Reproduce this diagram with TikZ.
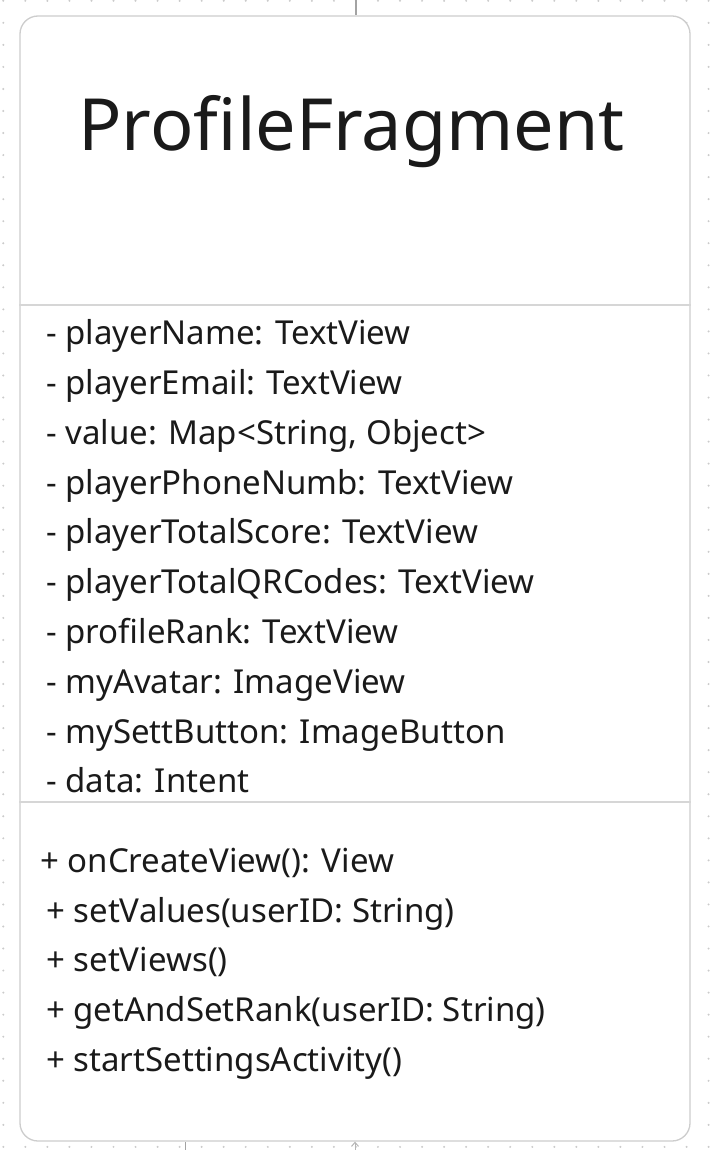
\documentclass[tikz,border=0pt]{standalone}
\usepackage{fontspec}
\setmainfont{Noto Sans}
\usetikzlibrary{arrows.meta}
\definecolor{inkdark}{HTML}{1A1A1A}
\definecolor{boxline}{HTML}{CDCDCD}
\definecolor{rule}{HTML}{D6D6D6}
\definecolor{wire}{HTML}{A3A3A3}
\definecolor{griddot}{HTML}{CBCBCB}
\tikzset{
  classbox/.style={draw=boxline, line width=1.3pt, fill=white, rounded corners=18pt,
    minimum width=670pt, minimum height=1125pt, inner sep=0pt},
  titletext/.style={anchor=base west, inner sep=0pt, text=inkdark, font=\fontsize{72}{78}\selectfont},
  membertext/.style={anchor=base west, inner sep=0pt, text=inkdark, font=\fontsize{33}{36}\selectfont},
  divider/.style={draw=rule, line width=1.3pt},
  wireline/.style={draw=wire, line width=1.6pt},
  wirearrow/.style={draw=wire!80, line width=1pt, -{Straight Barb[length=4pt,width=7pt]}},
}
\begin{document}
\begin{tikzpicture}[x=1pt,y=1pt]
\useasboundingbox (0,0) rectangle (712,-1150);
\fill[white] (0,0) rectangle (712,-1150);
% dotted canvas grid
\foreach \i in {0,...,32}{
  \foreach \j in {0,...,52}{
    \fill[griddot] ({3.3+22.04*\i},{-0.8-22.04*\j}) circle (1.1pt);
  }
}
% connector stubs above and below the class
\coordinate (inA) at (356,0);
\coordinate (outA) at (185.5,-1150);
\coordinate (outB) at (355,-1150);
% class box
\node[classbox] (cls) at (355,-578.5) {};
\draw[wireline] (inA) -- (inA |- cls.north);
\draw[wireline] (outA) -- (outA |- cls.south);
\draw[wirearrow] (outB) -- (outB |- cls.south);
% compartments
\draw[divider] (cls.west |- 0,-305) -- (cls.east |- 0,-305);
\draw[divider] (cls.west |- 0,-802) -- (cls.east |- 0,-802);
% class name
\node[titletext] (title) at (78,-151) {ProfileFragment};
% attributes
\node[membertext] (a1) at (46,-344) {- playerName: TextView};
\node[membertext] (a2) at (46,-394) {- playerEmail: TextView};
\node[membertext] (a3) at (46,-444) {- value: Map<String, Object>};
\node[membertext] (a4) at (46,-494) {- playerPhoneNumb: TextView};
\node[membertext] (a5) at (46,-543) {- playerTotalScore: TextView};
\node[membertext] (a6) at (46,-593) {- playerTotalQRCodes: TextView};
\node[membertext] (a7) at (46,-643) {- profileRank: TextView};
\node[membertext] (a8) at (46,-693) {- myAvatar: ImageView};
\node[membertext] (a9) at (46,-743) {- mySettButton: ImageButton};
\node[membertext] (a10) at (46,-792) {- data: Intent};
% operations
\node[membertext] (m1) at (40,-872) {+ onCreateView(): View};
\node[membertext] (m2) at (46,-922) {+ setValues(userID: String)};
\node[membertext] (m3) at (46,-971) {+ setViews()};
\node[membertext] (m4) at (46,-1021) {+ getAndSetRank(userID: String)};
\node[membertext] (m5) at (46,-1071) {+ startSettingsActivity()};
\end{tikzpicture}
\end{document}
